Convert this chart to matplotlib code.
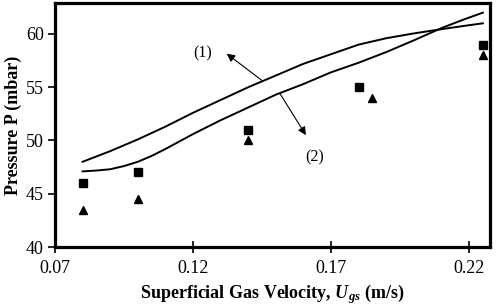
import numpy as np
import matplotlib
matplotlib.use('Agg')
import matplotlib.pyplot as plt

plt.rcParams['font.family'] = ['Liberation Serif', 'DejaVu Serif']
plt.rcParams['mathtext.fontset'] = 'custom'
plt.rcParams['mathtext.bfit'] = 'Liberation Serif:bold:italic'
plt.rcParams['mathtext.it'] = 'Liberation Serif:italic'
plt.rcParams['mathtext.rm'] = 'Liberation Serif'

# measured points
u_sq = [0.08, 0.10, 0.14, 0.18, 0.225]
p_sq = [46.0, 47.0, 51.0, 55.0, 59.0]
u_tri = [0.08, 0.10, 0.14, 0.185, 0.225]
p_tri = [43.5, 44.5, 50.0, 54.0, 58.0]

# model curves (1) and (2)
u_c1 = [0.08, 0.085, 0.09, 0.095, 0.10, 0.11, 0.12, 0.13, 0.14, 0.15, 0.16,
        0.17, 0.18, 0.19, 0.20, 0.21, 0.218, 0.225]
p_c1 = [48.0, 48.5, 49.0, 49.55, 50.1, 51.3, 52.6, 53.8, 55.0, 56.1, 57.2,
        58.1, 59.0, 59.6, 60.05, 60.45, 60.75, 61.0]
u_c2 = [0.08, 0.085, 0.09, 0.095, 0.10, 0.105, 0.11, 0.12, 0.13, 0.14, 0.15,
        0.16, 0.17, 0.18, 0.19, 0.20, 0.21, 0.218, 0.225]
p_c2 = [47.1, 47.18, 47.3, 47.6, 48.0, 48.55, 49.2, 50.6, 51.9, 53.1, 54.3,
        55.3, 56.4, 57.3, 58.3, 59.4, 60.55, 61.35, 62.0]

xticks = [0.07, 0.12, 0.17, 0.22]
yticks = [40, 45, 50, 55, 60]

fig = plt.figure(figsize=(4.98, 3.07), dpi=100)
ax = fig.add_axes([0.1104, 0.1954, 0.8736, 0.7946])

ax.plot(u_c1, p_c1, color='black', lw=1.4)
ax.plot(u_c2, p_c2, color='black', lw=1.4)
ax.plot(u_sq, p_sq, 's', color='black', ms=6, ls='none')
ax.plot(u_tri, p_tri, '^', color='black', ms=6, ls='none')

ax.annotate('', xy=(0.1322, 58.15), xytext=(0.1449, 55.65),
            arrowprops=dict(arrowstyle='-|>', color='black', lw=0.8,
                            mutation_scale=12, shrinkA=0, shrinkB=0))
ax.annotate('', xy=(0.1609, 50.5), xytext=(0.1515, 54.4),
            arrowprops=dict(arrowstyle='-|>', color='black', lw=0.8,
                            mutation_scale=12, shrinkA=0, shrinkB=0))
ax.text(0.1236, 58.2, '(1)', fontsize=11.5, ha='center', va='center')
ax.text(0.1642, 48.45, '(2)', fontsize=11.5, ha='center', va='center')

ax.set_xlim(0.07, 0.2276)
ax.set_ylim(40, 62.9)
ax.set_xticks(xticks)
ax.set_xticklabels(['%.2f' % v for v in xticks])
ax.set_yticks(yticks)
ax.tick_params(axis='x', direction='inout', length=8, width=1.2, labelsize=13, pad=5)
ax.tick_params(axis='y', direction='out', length=5, width=1.2, labelsize=13, pad=3)
for s in ax.spines.values():
    s.set_linewidth(2.3)

ax.set_xlabel(r'Superficial Gas Velocity, $\mathbfit{U}_{\mathbfit{gs}}$ (m/s)',
              fontsize=13, fontweight='bold', labelpad=4)
ax.set_ylabel('Pressure P (mbar)', fontsize=13, fontweight='bold', labelpad=3)

plt.savefig('out.png', dpi=100)
